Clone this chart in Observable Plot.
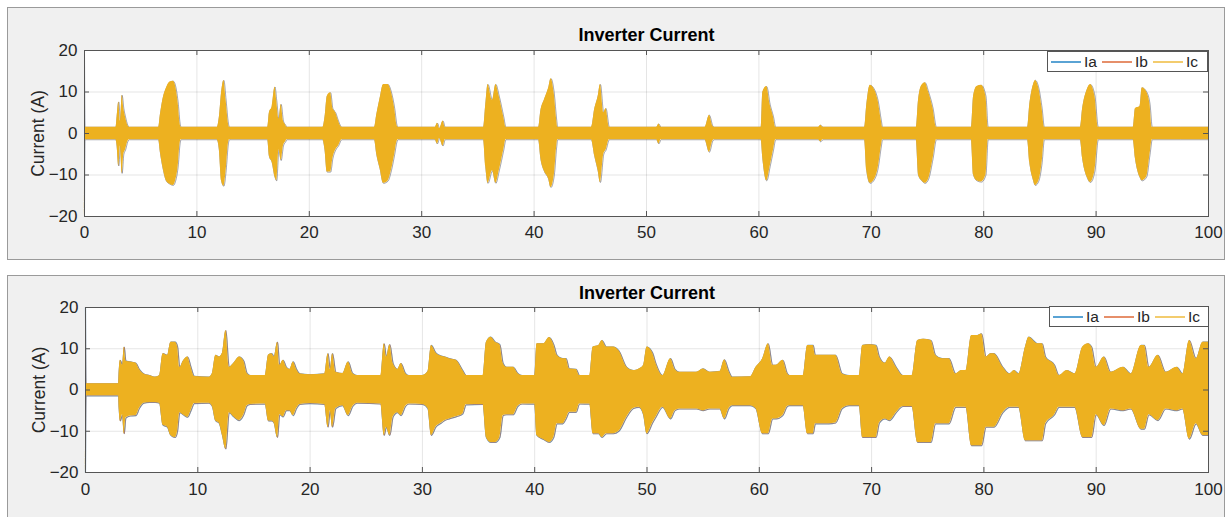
<!DOCTYPE html>
<html>
<head>
<meta charset="utf-8">
<script src="https://cdn.jsdelivr.net/npm/d3@7"></script>
<script src="https://cdn.jsdelivr.net/npm/@observablehq/plot@0.6"></script>
<style>
  html, body { margin: 0; padding: 0; background: #ffffff; width: 1232px; height: 517px; overflow: hidden; font-family: "Liberation Sans", Arial, sans-serif; }
  .panel { position: absolute; left: 7px; width: 1216px; background: #f0f0f0; border: 1px solid #9a9a9a; overflow: hidden; }
  .panel svg { display: block; }
  .legend { position: absolute; background: #ffffff; border: 1px solid #555; display: flex; align-items: center; font-size: 15.5px; color: #262626; padding: 0 3px; box-sizing: border-box; }
  .legend .item { display: flex; align-items: center; margin-right: 5px; }
  .legend .item:last-child { margin-right: 0; }
  .legend svg.sw { display: block; margin-right: 3px; }
</style>
</head>
<body>
<div id="p1" class="panel" style="top:7px;height:251px;"></div>
<div id="p2" class="panel" style="top:275px;height:260px;"></div>
<script>
// ---- data ----
const xTicks = [0, 10, 20, 30, 40, 50, 60, 70, 80, 90, 100];
const yTicks = [-20, -10, 0, 10, 20];
const seriesNames = ["Ia", "Ib", "Ic"];
const seriesColors = ["#0072BD", "#D95319", "#EDB120"];
const chartTitle = "Inverter Current";
const yLabel = "Current (A)";

// upper panel: envelope of the three phase currents (time, upper, lower)
const topT  = [0,0.05,2.8,2.9,3.05,3.2,3.35,3.5,3.65,3.85,4.0,6.6,6.75,7.0,7.3,7.6,7.9,8.1,8.35,8.5,8.6,11.8,12.0,12.2,12.4,12.6,12.8,12.9,16.3,16.45,16.7,16.95,17.1,17.3,17.5,17.7,17.9,18.0,21.2,21.4,21.6,21.9,22.1,22.35,22.6,22.9,25.8,26.0,26.3,26.6,27.0,27.3,27.6,27.8,27.9,31.2,31.4,31.6,31.9,32.1,35.5,35.7,35.9,36.3,36.6,36.9,37.3,37.5,40.4,40.6,40.9,41.3,41.5,41.8,42.0,42.1,45.1,45.4,45.7,45.9,46.2,46.4,46.7,50.9,51.1,51.3,55.2,55.6,55.9,56.0,60.2,60.35,60.7,61.0,61.3,61.5,65.3,65.5,65.7,69.4,69.6,69.9,70.3,70.6,70.9,71.0,74.0,74.2,74.5,74.8,75.1,75.5,75.8,78.9,79.1,79.4,79.8,80.2,80.4,83.9,84.1,84.4,84.6,84.9,85.2,85.4,88.6,88.8,89.2,89.5,89.9,90.2,93.3,93.5,93.9,94.1,94.5,94.8,95.0,100];
const topHi = [20,1.5,1.5,4,7.6,3,9.2,6,4,2,1.5,1.5,4.5,8.5,11,12.4,12.6,11.5,7,2.5,1.5,1.5,4,10,12.8,8,2.5,1.5,1.5,5,6.5,11.2,8,3.5,7,3,2,1.5,1.5,4,9,9.8,6,5,3,1.5,1.5,4.5,8.5,11.8,11.8,10,6,2,1.5,1.5,2.5,1.2,3,1.5,1.5,7,11.8,8,11.8,9,4,1.5,1.5,5.5,8,11,13.2,9.5,3.5,1.5,1.5,6,9,11.8,5,6,1.5,1.5,2.3,1.5,1.5,4.4,1.8,1.5,1.5,10,11.3,7,4,1.5,1.5,2,1.5,1.5,7,11.6,10.5,8,3,1.5,1.5,8,11.6,12.2,10,6,1.5,1.5,9,11.3,11.6,9,1.5,1.5,7,11.5,12.8,11,6,1.5,1.5,6,10.5,11.8,9,1.5,1.5,6,6.5,11,10,7,1.5,1.5];
const topLo = [-20,-1.5,-1.5,-3,-7.8,-3,-9.6,-5,-4,-2,-1.5,-1.5,-4.5,-8.5,-11.5,-12.2,-12.5,-11.5,-7.5,-2.5,-1.5,-1.5,-4,-11.5,-12.7,-9,-2.5,-1.5,-1.5,-5.5,-7,-10.5,-11.4,-4,-6.5,-3,-2,-1.5,-1.5,-4,-9.3,-9.3,-6,-4,-3,-1.5,-1.5,-5,-8.5,-12,-11.5,-9,-5,-2,-1.5,-1.5,-2.5,-1.2,-3,-1.5,-1.5,-8,-12,-9,-12,-9,-4,-1.5,-1.5,-6,-9,-11,-13,-10,-3.5,-1.5,-1.5,-5.5,-9,-11.8,-5,-4,-1.5,-1.5,-2.5,-1.5,-1.5,-4.5,-1.8,-1.5,-1.5,-6,-11.4,-8,-4,-1.5,-1.5,-2,-1.5,-1.5,-9,-12,-11,-8.5,-3,-1.5,-1.5,-10,-11.4,-12,-11,-6,-1.5,-1.5,-10,-11.4,-11.7,-10,-1.5,-1.5,-7,-11,-12.5,-11.5,-7,-1.5,-1.5,-6,-10.5,-11.8,-9,-1.5,-1.5,-6,-10.5,-11.4,-10.5,-5,-1.5,-1.5];

// lower panel: envelope of the three phase currents (time, upper, lower)
const botT  = [0,0.05,2.95,3.0,3.1,3.3,3.45,3.6,4.0,4.5,4.8,5.2,5.7,6.2,6.6,6.9,7.3,7.6,8.0,8.2,8.4,8.7,9.1,9.4,9.7,11.0,11.3,11.6,11.9,12.2,12.5,12.8,13.2,13.7,14.1,14.4,14.7,16.0,16.3,16.6,16.8,17.1,17.3,17.6,17.9,18.2,18.5,18.8,19.1,20.0,21.3,21.6,21.8,22.0,22.3,22.9,23.4,23.8,24.2,26.3,26.6,26.8,27.1,27.4,27.8,28.1,28.5,28.8,30.0,30.5,30.8,31.2,31.7,32.0,32.4,33.0,33.6,33.9,35.4,35.7,36.1,36.5,36.9,37.2,37.5,38.1,38.5,38.9,40.0,40.2,40.8,41.3,41.7,42.0,42.5,42.8,43.1,43.7,44.0,44.9,45.2,45.7,46.0,46.4,47.0,47.5,48.2,48.8,49.3,49.7,50.0,50.5,50.8,51.4,52.1,52.5,52.9,54.4,55.0,55.6,56.5,56.9,57.3,57.6,59.2,59.7,60.3,60.8,61.2,61.5,62.1,62.5,62.7,63.9,64.3,64.8,65.0,65.6,66.2,66.8,67.4,68.0,68.9,69.2,69.8,70.4,70.7,71.2,71.6,72.2,72.8,73.6,74.1,74.6,75.3,75.7,76.3,76.9,77.5,78.0,78.4,78.9,79.4,79.8,80.2,80.6,80.9,81.7,82.3,82.7,83.1,83.7,84.0,84.8,85.2,85.5,86.3,86.7,87.4,88.1,88.8,89.3,89.6,90.0,90.7,91.3,92.4,93.1,94.0,94.3,94.7,95.5,96.2,97.2,97.7,98.3,98.9,99.5,100];
const botHi = [20,1.5,1.5,4.5,7.2,6,10.4,7,6.8,6.5,5,3.9,3.5,3.1,3.5,8.8,8.4,11.6,11.6,10.5,5.5,7,8,5.5,3.3,3.1,4,8.4,8,9,14.4,5.5,6.5,8,7,4,3.5,3.5,8.5,8.8,8,11.6,6,7.2,5.5,5,6.8,5,3.9,3.7,3.9,8.8,5,8.8,4.3,4,6.8,4,3.5,3.5,11.2,8,11,6.4,5,6.4,4,3.5,3.5,4.5,10.8,9,8.2,8,7.6,7.2,4.7,3.5,3.5,11.6,12.8,11.6,11,6.4,5.5,5.5,4,3.5,3.5,11.2,11.2,12.7,11,8.4,7.6,7.6,5.1,5,3.5,3.5,10.4,10.8,12,10.4,10.4,9.5,5.5,4.7,5.1,6,10.4,9,6.4,3.5,7.6,5,4.3,4.3,5.1,4.3,4.5,7.3,4.5,3.1,3.2,5.5,7.6,11.2,6,6,7.2,4,3.5,3.5,10.8,10.8,8.4,8.4,8.4,8.4,3.9,3.5,3.5,10.8,11,10.8,8,6.5,8,5.5,3.5,3.5,12,12.3,12,8.4,7.6,7.6,3.9,4.7,4.7,13.2,13.2,13.6,8,8.8,8.8,5.5,3.9,4.7,3.9,10.4,12.8,11.2,11.2,8,6,3.5,4.7,3.9,10.4,11.2,10.4,5.5,8,4.3,5.5,3.9,10.8,10.8,5.5,8.4,4.3,5.5,3.9,12,7.6,11.6,11.6];
const botLo = [-20,-1.4,-1.4,-4.5,-7.5,-6,-10.6,-6.8,-6.3,-6.2,-4.5,-3.2,-3,-3,-3.2,-8.5,-9,-11,-11.5,-10,-5.5,-6,-6.6,-5,-3.3,-3.2,-4,-7.5,-8,-11,-14.3,-5.5,-6.5,-7.4,-6,-3.8,-3.5,-3.4,-7.5,-7.5,-8,-11.5,-6,-6.5,-5,-5,-6.2,-4.5,-3.5,-3.3,-3.5,-9,-5,-9,-4.5,-3.8,-6.2,-4,-3.2,-3.4,-11,-9,-11,-6.5,-5.5,-6.2,-4,-3.4,-3.5,-4.5,-11,-9,-8,-7.4,-7,-6.5,-5.8,-3.6,-3.5,-11.5,-12.7,-12.7,-11.5,-6.2,-6,-6,-4,-3.4,-3.4,-11,-12,-12.7,-11.5,-8.2,-8.2,-7,-5.4,-5.4,-3.4,-3.4,-10.6,-10.6,-11.5,-10.6,-10.6,-10,-6.6,-4.5,-4.2,-6,-10.6,-8,-6.6,-4.2,-7,-5,-4.6,-4.6,-5,-4.6,-4.6,-7,-4.5,-3.8,-3.8,-4.5,-10.6,-10.6,-7,-7,-6.2,-4,-3.8,-3.8,-10.6,-10.6,-8.2,-8.2,-8.2,-8,-4.5,-3.8,-3.8,-11.5,-11.5,-11.5,-8,-7,-7.4,-5.5,-4,-4,-12.7,-12.7,-12.7,-8.2,-8.2,-8.2,-4.2,-4.2,-4.2,-13.5,-13.5,-13.5,-9,-9,-9,-5.5,-4.2,-4.2,-4.2,-12.3,-12.3,-12.3,-12.3,-8.2,-6,-4.2,-4.2,-4.2,-11.5,-11.5,-11.5,-6,-8.6,-4.6,-5,-4.6,-9.5,-9.5,-6,-7.4,-4.6,-5,-4.6,-11.9,-8.2,-11,-11];

const FONT = '"Liberation Sans", Arial, Helvetica, sans-serif';
const SVGNS = "http://www.w3.org/2000/svg";
const CURVE = "monotone-x";

function makePanel(el, T, HI, LO, opts) {
  const rows = T.map((t, i) => ({t, hi: HI[i], lo: LO[i]}));
  const W = 1216, H = opts.height;
  const mL = opts.mL, mR = opts.mR, mT = opts.mT, mB = opts.mB;
  const plotW = W - mL - mR, plotH = H - mT - mB;
  const svg = Plot.plot({
    width: W, height: H,
    marginLeft: mL, marginRight: mR, marginTop: mT, marginBottom: mB,
    x: {domain: [0, 100]},
    y: {domain: [-20, 20]},
    style: {background: "transparent", fontFamily: FONT, fontSize: "17px", color: "#262626", overflow: "visible"},
    marks: [
      Plot.frame({fill: "#ffffff", stroke: null}),
      Plot.gridX(xTicks, {stroke: "#000", strokeOpacity: 0.1, strokeWidth: 1}),
      Plot.gridY(yTicks, {stroke: "#000", strokeOpacity: 0.1, strokeWidth: 1}),
      // phase A and B edges peeking out beneath phase C
      Plot.lineY(rows, {x: "t", y: "hi", curve: CURVE, stroke: seriesColors[0], strokeWidth: opts.edgeW, strokeOpacity: opts.edgeO}),
      Plot.lineY(rows, {x: "t", y: "lo", curve: CURVE, stroke: seriesColors[0], strokeWidth: opts.edgeW, strokeOpacity: opts.edgeO}),
      Plot.lineY(rows, {x: "t", y: "hi", curve: CURVE, stroke: seriesColors[1], strokeWidth: opts.edgeW * 0.8, strokeOpacity: opts.edgeO * 0.8}),
      Plot.lineY(rows, {x: "t", y: "lo", curve: CURVE, stroke: seriesColors[1], strokeWidth: opts.edgeW * 0.8, strokeOpacity: opts.edgeO * 0.8}),
      Plot.areaY(rows, {x: "t", y1: "lo", y2: "hi", curve: CURVE, fill: seriesColors[2]}),
      Plot.frame({stroke: "#555555", strokeWidth: 1}),
      // inward ticks on all four sides (MATLAB style)
      Plot.ruleX(xTicks, {x: d => d, insetTop: plotH - 5, stroke: "#555555"}),
      Plot.ruleX(xTicks, {x: d => d, insetBottom: plotH - 5, stroke: "#555555"}),
      Plot.ruleY(yTicks, {y: d => d, insetRight: plotW - 5, stroke: "#555555"}),
      Plot.ruleY(yTicks, {y: d => d, insetLeft: plotW - 5, stroke: "#555555"}),
      Plot.axisX(xTicks, {tickSize: 0, tickPadding: opts.xPad, label: null, fontSize: 17, fill: "#262626"}),
      Plot.axisY(yTicks, {tickSize: 0, tickPadding: 7, label: null, fontSize: 17, fill: "#262626"}),
      Plot.text([chartTitle], {frameAnchor: "top", lineAnchor: "middle", textAnchor: "middle", dy: opts.titleDy, fontWeight: "bold", fontSize: 18, fill: "#000"}),
      Plot.text([yLabel], {frameAnchor: "left", lineAnchor: "middle", textAnchor: "middle", rotate: -90, dx: -46, fontSize: 17.5, fill: "#262626"})
    ]
  });
  el.appendChild(svg);

  const lg = document.createElement("div");
  lg.className = "legend";
  lg.style.left = opts.legendLeft + "px";
  lg.style.top = opts.legendTop + "px";
  lg.style.width = opts.legendWidth + "px";
  lg.style.height = opts.legendHeight + "px";
  seriesNames.forEach((name, i) => {
    const it = document.createElement("div");
    it.className = "item";
    const sw = document.createElementNS(SVGNS, "svg");
    sw.setAttribute("class", "sw");
    sw.setAttribute("width", "30");
    sw.setAttribute("height", "6");
    const ln = document.createElementNS(SVGNS, "line");
    ln.setAttribute("x1", "0"); ln.setAttribute("x2", "30");
    ln.setAttribute("y1", "3"); ln.setAttribute("y2", "3");
    ln.setAttribute("stroke", seriesColors[i]);
    ln.setAttribute("stroke-width", "1.3");
    sw.appendChild(ln);
    const tx = document.createElement("span");
    tx.textContent = name;
    it.appendChild(sw); it.appendChild(tx);
    lg.appendChild(it);
  });
  el.appendChild(lg);
}

makePanel(document.getElementById("p1"), topT, topHi, topLo,
  {height: 251, mL: 76, mR: 16, mT: 42, mB: 43, xPad: 9, titleDy: -15, edgeW: 0.9, edgeO: 0.45,
   legendLeft: 1039, legendTop: 43, legendWidth: 161, legendHeight: 21});
makePanel(document.getElementById("p2"), botT, botHi, botLo,
  {height: 241, mL: 77, mR: 16, mT: 31, mB: 45, xPad: 10, titleDy: -14, edgeW: 1.2, edgeO: 0.6,
   legendLeft: 1041, legendTop: 30, legendWidth: 160, legendHeight: 21});
</script>
</body>
</html>
